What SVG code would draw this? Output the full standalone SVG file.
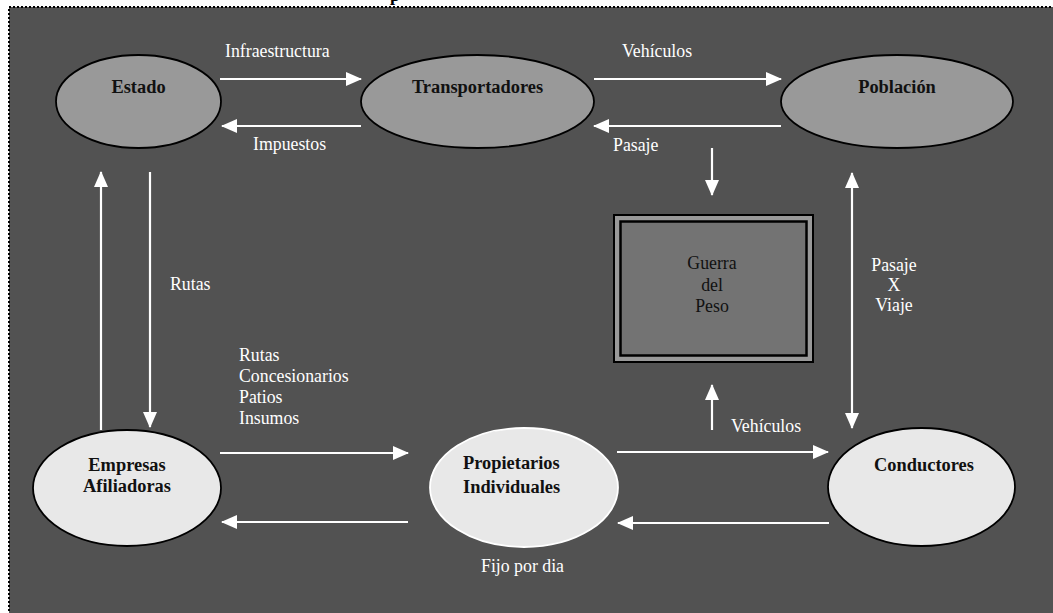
<svg xmlns="http://www.w3.org/2000/svg" width="1053" height="613" viewBox="0 0 1053 613">
<defs>
<marker id="ah" viewBox="0 0 16 14" refX="15" refY="7" markerWidth="16" markerHeight="14" markerUnits="userSpaceOnUse" orient="auto-start-reverse">
<path d="M0,0 L16,7 L0,14 Z" fill="#ffffff"/>
</marker>
<style>
.bg{fill:#525252;stroke:#000;stroke-width:2;stroke-dasharray:2 2}
.node-dark{fill:#999999;stroke:#000;stroke-width:1.8}
.node-light{fill:#e8e8e8;stroke:#000;stroke-width:1.8}
.node-light-w{fill:#e8e8e8;stroke:#ffffff;stroke-width:1.8}
.nl{font-family:"Liberation Serif","Times New Roman",serif;font-weight:bold;font-size:18.4px;fill:#111}
.lbl{font-family:"Liberation Serif","Times New Roman",serif;font-size:17.8px;fill:#ffffff}
.boxt{font-family:"Liberation Serif","Times New Roman",serif;font-size:17.8px;fill:#111}
.c{fill:none;stroke:#ffffff;stroke-width:2.2;marker-end:url(#ah)}
.c2{fill:none;stroke:#ffffff;stroke-width:2.2;marker-end:url(#ah);marker-start:url(#ah)}
</style>
</defs>
<rect x="0" y="0" width="1053" height="613" fill="#ffffff"/>
<rect class="bg" x="9" y="7" width="1060" height="620"/>
<text x="390" y="1" style="font-family:'Liberation Serif',serif;font-weight:bold;font-size:18px;fill:#000">p</text>

<g id="connectors">
<line class="c" x1="220" y1="79" x2="361" y2="79"/>
<line class="c" x1="361" y1="126" x2="222" y2="126"/>
<line class="c" x1="594" y1="79" x2="781" y2="79"/>
<line class="c" x1="781" y1="126" x2="594" y2="126"/>
<line class="c" x1="712" y1="148" x2="712" y2="195"/>
<line class="c2" x1="852" y1="173" x2="852" y2="428"/>
<line class="c" x1="712" y1="430" x2="712" y2="385"/>
<line class="c" x1="101" y1="430" x2="101" y2="172"/>
<line class="c" x1="150" y1="172" x2="150" y2="427"/>
<line class="c" x1="220" y1="453" x2="408" y2="453"/>
<line class="c" x1="408" y1="522" x2="222" y2="522"/>
<line class="c" x1="617" y1="452" x2="828" y2="452"/>
<line class="c" x1="829" y1="523" x2="618" y2="523"/>
<text class="lbl" x="225" y="57">Infraestructura</text>
<text class="lbl" x="253" y="150">Impuestos</text>
<text class="lbl" x="622" y="57">Vehículos</text>
<text class="lbl" x="613" y="151">Pasaje</text>
<text class="lbl" x="170" y="290">Rutas</text>
<text class="lbl" x="239" y="361">Rutas</text>
<text class="lbl" x="239" y="382">Concesionarios</text>
<text class="lbl" x="239" y="403">Patios</text>
<text class="lbl" x="239" y="424">Insumos</text>
<text class="lbl" x="894" y="271" text-anchor="middle">Pasaje</text>
<text class="lbl" x="894" y="291" text-anchor="middle">X</text>
<text class="lbl" x="894" y="311" text-anchor="middle">Viaje</text>
<text class="lbl" x="731" y="432">Vehículos</text>
<text class="lbl" x="481" y="572">Fijo por dia</text>
</g>

<g id="estado">
<ellipse class="node-dark" cx="138.5" cy="101.5" rx="82.5" ry="46.5"/>
<text class="nl" x="138.5" y="93" text-anchor="middle">Estado</text>
</g>
<g id="transportadores">
<ellipse class="node-dark" cx="477.5" cy="101.5" rx="116.5" ry="46.5"/>
<text class="nl" x="477.5" y="93" text-anchor="middle">Transportadores</text>
</g>
<g id="poblacion">
<ellipse class="node-dark" cx="897" cy="101.5" rx="116" ry="46.5"/>
<text class="nl" x="897" y="93" text-anchor="middle">Población</text>
</g>
<g id="guerra">
<rect x="614" y="215" width="199" height="147" fill="#999999" stroke="#000" stroke-width="2"/>
<rect x="620.5" y="221.5" width="186" height="134" fill="#737373" stroke="#000" stroke-width="2.5"/>
<text class="boxt" x="712" y="269" text-anchor="middle">Guerra</text>
<text class="boxt" x="712" y="291" text-anchor="middle">del</text>
<text class="boxt" x="712" y="312" text-anchor="middle">Peso</text>
</g>
<g id="empresas">
<ellipse class="node-light" cx="127" cy="488" rx="94" ry="58"/>
<text class="nl" x="127" y="471" text-anchor="middle">Empresas</text>
<text class="nl" x="127" y="492" text-anchor="middle">Afiliadoras</text>
</g>
<g id="propietarios">
<ellipse class="node-light-w" cx="524" cy="487.5" rx="94" ry="59.5"/>
<text class="nl" x="463" y="469">Propietarios</text>
<text class="nl" x="463" y="493">Individuales</text>
</g>
<g id="conductores">
<ellipse class="node-light" cx="921.5" cy="487" rx="93.5" ry="59"/>
<text class="nl" x="924" y="471" text-anchor="middle">Conductores</text>
</g>
</svg>
